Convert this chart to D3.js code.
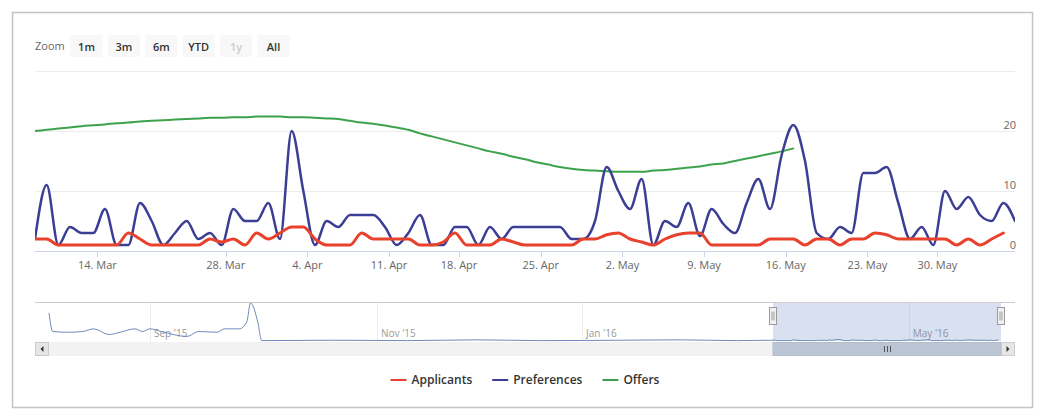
<!DOCTYPE html>
<html>
<head>
<meta charset="utf-8">
<script src="https://d3js.org/d3.v7.min.js"></script>
<style>
    body { margin: 0; background: #fff; }
    text { font-family: "Open Sans", sans-serif; }
</style>
</head>
<body>
<script>
//wrap everything in a self-executing anonymous function
(function () {

    //main window: one point per day, skipped days left out (ordinal axis)
    var firstDay = "2016-03-09";
    var skippedDays = ["2016-03-19", "2016-03-20", "2016-03-21", "2016-04-16", "2016-05-28"];
    var dayCount = 85;

    var applicants = [2, 2, 1, 1, 1, 1, 1, 1, 3, 2,
        1, 1, 1, 1, 1, 2, 1.5, 2, 1, 3,
        2, 3, 4, 4, 2, 1, 1, 1, 3, 2,
        2, 2, 2, 1, 1, 1.5, 3, 1, 1, 1,
        2, 1.5, 1, 1, 1, 1, 1, 2, 2, 2.7,
        3, 2, 1.5, 1, 2, 2.7, 3, 3, 1, 1,
        1, 1, 1, 2, 2, 2, 1, 2, 2, 1,
        2, 2, 3, 2.7, 2, 2, 2, 2, 2, 1,
        2, 1, 2, 3];
    var preferences = [2, 11, 1, 4, 3, 3, 7, 1, 1, 8,
        5, 1, 3, 5, 2, 3, 1, 7, 5, 5,
        8, 2, 20, 10, 1, 5, 4, 6, 6, 6,
        4, 1, 3, 6, 1, 1, 4, 4, 1, 4,
        2, 4, 4, 4, 4, 4, 2, 2, 5, 14,
        10, 7, 12, 1, 5, 4, 8, 2.5, 7, 4.5,
        3, 8, 12, 7, 16, 21, 15, 3, 2, 4,
        3, 13, 13, 14, 8, 2, 4, 1, 10, 7,
        9, 6, 5, 8, 5];
    var offers = [20.0, 20.2, 20.4, 20.6, 20.8, 20.95, 21.1, 21.3, 21.4, 21.6,
        21.7, 21.8, 21.9, 22.0, 22.1, 22.2, 22.2, 22.3, 22.3, 22.4,
        22.4, 22.4, 22.3, 22.3, 22.2, 22.1, 22.0, 21.7, 21.4, 21.2,
        20.9, 20.6, 20.2, 19.6, 19.1, 18.6, 18.1, 17.6, 17.1, 16.6,
        16.2, 15.7, 15.3, 14.8, 14.4, 14.0, 13.7, 13.5, 13.4, 13.3,
        13.2, 13.2, 13.2, 13.4, 13.5, 13.7, 13.9, 14.1, 14.4, 14.6,
        15.0, 15.4, 15.8, 16.2, 16.6, 17.1];

    var xTickDays = ["2016-03-14", "2016-03-28", "2016-04-04", "2016-04-11", "2016-04-18", "2016-04-25",
        "2016-05-02", "2016-05-09", "2016-05-16", "2016-05-23", "2016-05-30"];
    var xTickLabels = ["14. Mar", "28. Mar", "4. Apr", "11. Apr", "18. Apr", "25. Apr",
        "2. May", "9. May", "16. May", "23. May", "30. May"];
    var yTicks = [0, 10, 20, 30];
    var yTickLabels = ["0", "10", "20", ""];

    var zoomButtons = ["1m", "3m", "6m", "YTD", "1y", "All"];
    var disabledButton = "1y";

    var seriesNames = ["Applicants", "Preferences", "Offers"];
    var seriesColors = ["#e8422c", "#3c3e95", "#3da24c"];
    var seriesWidths = [3, 2.5, 2];

    //navigator: older history before the main window
    var navDays = ["2015-08-05", "2015-08-06", "2015-08-10", "2015-08-14", "2015-08-17", "2015-08-21",
        "2015-08-24", "2015-08-28", "2015-08-30", "2015-09-01", "2015-09-04", "2015-09-11",
        "2015-09-14", "2015-09-19", "2015-09-21", "2015-09-25", "2015-09-27", "2015-09-28",
        "2015-09-30", "2015-10-01", "2015-10-20", "2015-11-10", "2015-12-01", "2015-12-20",
        "2016-01-15", "2016-02-05", "2016-02-25"];
    var navValues = [74, 25, 23, 25, 32, 17,
        23, 32, 25, 32, 25, 12,
        25, 23, 32, 32, 50, 100,
        48, 1, 2, 1, 3, 1,
        2, 3, 1];
    var navTickDays = ["2015-09-01", "2015-11-01", "2016-01-01", "2016-05-01"];
    var navTickLabels = ["Sep '15", "Nov '15", "Jan '16", "May '16"];
    //navigator axis is ordinal too: anchor days and where they sit
    var navAnchorDays = ["2015-08-05", "2015-09-01", "2015-11-01", "2016-01-01", "2016-03-09", "2016-06-06"];
    var navAnchorX = [49, 150, 377, 582, 773, 1001];

    var parseDay = d3.timeParse("%Y-%m-%d");

    //build the list of days in the main window
    var days = [];
    var skipped = skippedDays.map(function (s) { return +parseDay(s); });
    var day = parseDay(firstDay);
    while (days.length < dayCount) {
        if (skipped.indexOf(+day) < 0) days.push(day);
        day = d3.timeDay.offset(day, 1);
    }

    var width = 1039, height = 409;
    var plotLeft = 35, plotRight = 1015, plotTop = 71, plotBottom = 251;

    var svg = d3.select("body")
        .append("svg")
        .attr("width", width)
        .attr("height", height);

    //outer frame
    svg.append("rect")
        .attr("x", 12.5).attr("y", 12.5)
        .attr("width", 1020).attr("height", 395)
        .attr("fill", "#fff")
        .attr("stroke", "#c4c4c4")
        .attr("stroke-width", 1.5);

    //range selector
    svg.append("text")
        .attr("x", 35).attr("y", 50)
        .attr("font-size", 11)
        .attr("fill", "#666")
        .text("Zoom");

    var buttons = svg.selectAll(".zoomButton")
        .data(zoomButtons)
        .enter()
        .append("g")
        .attr("class", "zoomButton")
        .attr("transform", function (d, i) { return "translate(" + (70.5 + i * 37.4) + ",35)"; });
    buttons.append("rect")
        .attr("width", 32).attr("height", 22).attr("rx", 2)
        .attr("fill", "#f8f8f8");
    buttons.append("text")
        .attr("x", 16).attr("y", 15.5)
        .attr("text-anchor", "middle")
        .attr("font-size", 11)
        .attr("font-weight", 600)
        .attr("fill", function (d) { return d == disabledButton ? "#cccccc" : "#333"; })
        .text(function (d) { return d; });

    //scales
    var x = d3.scaleLinear()
        .domain([0, dayCount - 1])
        .range([plotLeft, plotRight]);

    var y = d3.scaleLinear()
        .domain([0, 30])
        .range([plotBottom, plotTop]);

    //horizontal grid lines and y labels (opposite side)
    svg.selectAll(".grid")
        .data(yTicks)
        .enter()
        .append("line")
        .attr("class", "grid")
        .attr("x1", plotLeft).attr("x2", plotRight)
        .attr("y1", function (d) { return Math.round(y(d)) + 0.5; })
        .attr("y2", function (d) { return Math.round(y(d)) + 0.5; })
        .attr("stroke", "#ececec");

    svg.selectAll(".yLabel")
        .data(yTicks)
        .enter()
        .append("text")
        .attr("class", "yLabel")
        .attr("x", plotRight + 1)
        .attr("y", function (d) { return y(d) - 2; })
        .attr("text-anchor", "end")
        .attr("font-size", 11)
        .attr("fill", "#666")
        .text(function (d, i) { return yTickLabels[i]; });

    //x axis line, ticks and labels
    svg.append("line")
        .attr("x1", plotLeft).attr("x2", plotRight)
        .attr("y1", plotBottom + 0.5).attr("y2", plotBottom + 0.5)
        .attr("stroke", "#ccd6eb");

    var tickIndex = xTickDays.map(function (s) {
        var t = +parseDay(s);
        for (var i = 0; i < days.length; i++) {
            if (+days[i] == t) return i + 0.35;
        }
        return -1;
    });

    svg.selectAll(".xTick")
        .data(tickIndex)
        .enter()
        .append("line")
        .attr("class", "xTick")
        .attr("x1", function (d) { return Math.round(x(d)) + 0.5; })
        .attr("x2", function (d) { return Math.round(x(d)) + 0.5; })
        .attr("y1", plotBottom).attr("y2", plotBottom + 6)
        .attr("stroke", "#ccd6eb");

    svg.selectAll(".xLabel")
        .data(tickIndex)
        .enter()
        .append("text")
        .attr("class", "xLabel")
        .attr("x", function (d) { return x(d); })
        .attr("y", 269)
        .attr("text-anchor", "middle")
        .attr("font-size", 11)
        .attr("fill", "#666")
        .text(function (d, i) { return xTickLabels[i]; });

    //series
    svg.append("clipPath")
        .attr("id", "plotClip")
        .append("rect")
        .attr("x", plotLeft).attr("y", plotTop - 10)
        .attr("width", plotRight - plotLeft).attr("height", plotBottom - plotTop + 20);

    var line = d3.line()
        .x(function (d, i) { return x(i); })
        .y(function (d) { return y(d); })
        .curve(d3.curveMonotoneX);

    var seriesData = [applicants, preferences, offers];
    var drawOrder = [2, 1, 0];
    drawOrder.forEach(function (s) {
        svg.append("path")
            .datum(seriesData[s])
            .attr("clip-path", "url(#plotClip)")
            .attr("d", line)
            .attr("fill", "none")
            .attr("stroke", seriesColors[s])
            .attr("stroke-width", seriesWidths[s])
            .attr("stroke-linejoin", "round")
            .attr("stroke-linecap", "round");
    });

    //navigator
    var navTop = 302, navBottom = 341;
    var navX = d3.scaleTime()
        .domain(navAnchorDays.map(parseDay))
        .range(navAnchorX);
    var navY = d3.scaleLinear()
        .domain([0, 100])
        .range([navBottom, navTop + 1]);

    //history plus the applicants of the main window
    var navPoints = navDays.map(function (s, i) { return [parseDay(s), navValues[i]]; })
        .concat(applicants.map(function (v, i) { return [days[i], v]; }));

    //navigator grid lines and labels
    svg.selectAll(".navGrid")
        .data(navTickDays)
        .enter()
        .append("line")
        .attr("class", "navGrid")
        .attr("x1", function (d) { return Math.round(navX(parseDay(d))) + 0.5; })
        .attr("x2", function (d) { return Math.round(navX(parseDay(d))) + 0.5; })
        .attr("y1", navTop).attr("y2", navBottom)
        .attr("stroke", "#ececec");

    svg.selectAll(".navLabel")
        .data(navTickDays)
        .enter()
        .append("text")
        .attr("class", "navLabel")
        .attr("x", function (d) { return navX(parseDay(d)) + 4; })
        .attr("y", 337)
        .attr("font-size", 10)
        .attr("fill", "#999")
        .text(function (d, i) { return navTickLabels[i]; });

    //selected range mask
    var selLeft = navX(days[0]), selRight = navX(days[days.length - 1]);
    svg.append("rect")
        .attr("x", selLeft).attr("y", navTop)
        .attr("width", selRight - selLeft).attr("height", navBottom - navTop)
        .attr("fill", "rgba(102,133,194,0.25)");

    var navLine = d3.line()
        .x(function (d) { return navX(d[0]); })
        .y(function (d) { return navY(d[1]); })
        .curve(d3.curveMonotoneX);

    svg.append("path")
        .datum(navPoints)
        .attr("d", navLine)
        .attr("fill", "none")
        .attr("stroke", "#6d8bbd")
        .attr("stroke-width", 1);

    //navigator outline
    svg.append("line")
        .attr("x1", plotLeft).attr("x2", plotRight)
        .attr("y1", navTop + 0.5).attr("y2", navTop + 0.5)
        .attr("stroke", "#cccccc");

    //handles
    [selLeft, selRight].forEach(function (hx) {
        var h = svg.append("g").attr("transform", "translate(" + (Math.round(hx) - 3.5) + "," + 307.5 + ")");
        h.append("rect")
            .attr("width", 7).attr("height", 17)
            .attr("fill", "#f2f2f2").attr("stroke", "#999");
        h.append("line")
            .attr("x1", 2.5).attr("x2", 2.5).attr("y1", 4).attr("y2", 13)
            .attr("stroke", "#999");
        h.append("line")
            .attr("x1", 4.5).attr("x2", 4.5).attr("y1", 4).attr("y2", 13)
            .attr("stroke", "#999");
    });

    //scrollbar
    var barTop = 342, barHeight = 14;
    svg.append("rect")
        .attr("x", plotLeft).attr("y", barTop)
        .attr("width", plotRight - plotLeft).attr("height", barHeight)
        .attr("fill", "#f2f2f2");
    svg.append("rect")
        .attr("x", selLeft).attr("y", barTop + 0.5)
        .attr("width", selRight - selLeft).attr("height", barHeight - 1)
        .attr("fill", "#bcc5d3").attr("stroke", "#b3bcc9");
    var gripX = (selLeft + selRight) / 2;
    [-3, 0, 3].forEach(function (o) {
        svg.append("line")
            .attr("x1", Math.round(gripX + o) + 0.5).attr("x2", Math.round(gripX + o) + 0.5)
            .attr("y1", barTop + 4).attr("y2", barTop + 10)
            .attr("stroke", "#555");
    });
    [[plotLeft, -1], [plotRight - barHeight, 1]].forEach(function (b) {
        var g = svg.append("g").attr("transform", "translate(" + b[0] + "," + barTop + ")");
        g.append("rect")
            .attr("x", 0.5).attr("y", 0.5)
            .attr("width", barHeight - 1).attr("height", barHeight - 1)
            .attr("fill", "#e6e6e6").attr("stroke", "#cccccc");
        var cx = barHeight / 2, cy = barHeight / 2;
        g.append("path")
            .attr("d", b[1] < 0
                ? "M" + (cx + 1.5) + "," + (cy - 3) + "L" + (cx - 1.5) + "," + cy + "L" + (cx + 1.5) + "," + (cy + 3) + "Z"
                : "M" + (cx - 1.5) + "," + (cy - 3) + "L" + (cx + 1.5) + "," + cy + "L" + (cx - 1.5) + "," + (cy + 3) + "Z")
            .attr("fill", "#333");
    });

    //legend
    var legend = svg.append("g");
    var items = legend.selectAll(".legendItem")
        .data(seriesNames)
        .enter()
        .append("g")
        .attr("class", "legendItem");
    items.append("line")
        .attr("x1", 0).attr("x2", 16)
        .attr("y1", 0).attr("y2", 0)
        .attr("stroke", function (d, i) { return seriesColors[i]; })
        .attr("stroke-width", 2);
    items.append("text")
        .attr("x", 21).attr("y", 4)
        .attr("font-size", 12)
        .attr("font-weight", 600)
        .attr("fill", "#333")
        .text(function (d) { return d; });

    var offset = 0, widths = [];
    items.each(function () {
        widths.push(21 + d3.select(this).select("text").node().getComputedTextLength());
    });
    var total = d3.sum(widths) + 20 * (widths.length - 1);
    var legendLeft = (plotLeft + plotRight) / 2 - total / 2;
    items.attr("transform", function (d, i) {
        var tx = legendLeft + offset;
        offset += widths[i] + 20;
        return "translate(" + tx + ",380)";
    });

})();
</script>
</body>
</html>
